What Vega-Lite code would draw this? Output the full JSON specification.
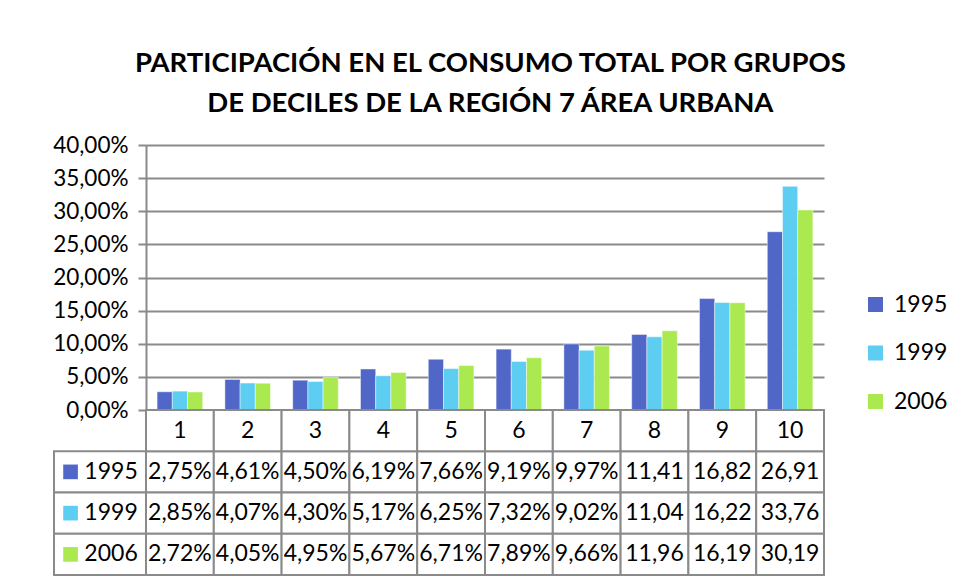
{
  "$schema": "https://vega.github.io/schema/vega-lite/v6.json",
  "background": "white",
  "padding": {"left": 52, "top": 50, "right": 10, "bottom": 5},
  "title": {
    "text": ["PARTICIPACIÓN EN EL CONSUMO TOTAL POR GRUPOS", "DE DECILES DE LA REGIÓN 7 ÁREA URBANA"],
    "font": "Lato", "fontSize": 27.5, "fontWeight": "bold", "color": "#000000",
    "lineHeight": 39.5, "anchor": "middle", "frame": "bounds", "offset": 17, "dx": -10
  },
  "config": {"view": {"stroke": null}, "font": "Lato"},
  "datasets": {
    "t": [
      {"d": 1, "year": "1995", "v": 2.75}, {"d": 2, "year": "1995", "v": 4.61}, {"d": 3, "year": "1995", "v": 4.50},
      {"d": 4, "year": "1995", "v": 6.19}, {"d": 5, "year": "1995", "v": 7.66}, {"d": 6, "year": "1995", "v": 9.19},
      {"d": 7, "year": "1995", "v": 9.97}, {"d": 8, "year": "1995", "v": 11.41}, {"d": 9, "year": "1995", "v": 16.82},
      {"d": 10, "year": "1995", "v": 26.91},
      {"d": 1, "year": "1999", "v": 2.85}, {"d": 2, "year": "1999", "v": 4.07}, {"d": 3, "year": "1999", "v": 4.30},
      {"d": 4, "year": "1999", "v": 5.17}, {"d": 5, "year": "1999", "v": 6.25}, {"d": 6, "year": "1999", "v": 7.32},
      {"d": 7, "year": "1999", "v": 9.02}, {"d": 8, "year": "1999", "v": 11.04}, {"d": 9, "year": "1999", "v": 16.22},
      {"d": 10, "year": "1999", "v": 33.76},
      {"d": 1, "year": "2006", "v": 2.72}, {"d": 2, "year": "2006", "v": 4.05}, {"d": 3, "year": "2006", "v": 4.95},
      {"d": 4, "year": "2006", "v": 5.67}, {"d": 5, "year": "2006", "v": 6.71}, {"d": 6, "year": "2006", "v": 7.89},
      {"d": 7, "year": "2006", "v": 9.66}, {"d": 8, "year": "2006", "v": 11.96}, {"d": 9, "year": "2006", "v": 16.19},
      {"d": 10, "year": "2006", "v": 30.19}
    ],
    "years": [{"year": "1995"}, {"year": "1999"}, {"year": "2006"}]
  },
  "columns": 2,
  "spacing": 0,
  "bounds": "flush",
  "resolve": {"scale": {"x": "independent", "y": "independent", "color": "independent"}, "legend": {"color": "independent"}},
  "concat": [
    {
      "width": 92, "height": 265,
      "data": {"values": [{"a": 1}]},
      "mark": {"type": "text", "text": ""},
      "encoding": {}
    },
    {
      "width": 678, "height": 265,
      "data": {"name": "t"},
      "mark": {"type": "bar", "stroke": "#ffffff", "strokeOpacity": 0.45, "strokeWidth": 1},
      "encoding": {
        "x": {"field": "d", "type": "ordinal", "scale": {"type": "band", "domain": [1,2,3,4,5,6,7,8,9,10], "paddingInner": 0, "paddingOuter": 0}, "axis": null},
        "xOffset": {"field": "year", "type": "nominal", "scale": {"domain": ["1995", "1999", "2006"], "paddingInner": 0, "paddingOuter": 0.73}},
        "y": {"field": "v", "type": "quantitative", "scale": {"domain": [0, 40], "nice": false},
          "axis": {"values": [0,5,10,15,20,25,30,35,40], "title": null, "labelExpr": "replace(format(datum.value, '.2f'), '.', ',') + '%'",
            "labelFontSize": 22.5, "labelColor": "#000000", "labelPadding": 10, "labelFont": "Lato",
            "grid": true, "gridColor": "#8a8a8a", "gridWidth": 2, "domainColor": "#8a8a8a", "domainWidth": 2,
            "tickColor": "#8a8a8a", "tickWidth": 2, "tickSize": 8}},
        "color": {"field": "year", "type": "nominal",
          "scale": {"domain": ["1995", "1999", "2006"], "range": ["#5067C8", "#5ECDF2", "#AAEA50"]},
          "legend": {"title": null, "orient": "none", "legendX": 718, "legendY": 148, "padding": 0,
            "symbolType": "square", "symbolSize": 225, "symbolStrokeWidth": 0, "symbolOpacity": 1,
            "labelFontSize": 23, "labelFont": "Lato", "labelColor": "#000000", "labelOffset": 7, "rowPadding": 24.5}}
      }
    },
    {
      "width": 92, "height": 165,
      "data": {"name": "years"},
      "layer": [
        {
          "mark": {"type": "rect", "fill": "#ffffff", "stroke": "#8a8a8a", "strokeWidth": 2},
          "encoding": {
            "y": {"field": "year", "type": "nominal", "scale": {"type": "band", "domain": ["h", "1995", "1999", "2006"], "paddingInner": 0, "paddingOuter": 0}, "axis": null}
          }
        },
        {
          "mark": {"type": "point", "shape": "square", "filled": true, "opacity": 1, "size": 215},
          "encoding": {
            "x": {"datum": 0.18, "type": "quantitative", "scale": {"domain": [0, 1]}, "axis": null},
            "y": {"field": "year", "type": "nominal", "scale": {"type": "band", "domain": ["h", "1995", "1999", "2006"], "paddingInner": 0, "paddingOuter": 0}, "axis": null},
            "color": {"field": "year", "type": "nominal", "scale": {"domain": ["1995", "1999", "2006"], "range": ["#5067C8", "#5ECDF2", "#AAEA50"]}, "legend": null}
          }
        },
        {
          "mark": {"type": "text", "align": "left", "baseline": "middle", "fontSize": 23, "font": "Lato", "color": "#000000"},
          "encoding": {
            "x": {"datum": 0.33, "type": "quantitative", "scale": {"domain": [0, 1]}, "axis": null},
            "y": {"field": "year", "type": "nominal", "scale": {"type": "band", "domain": ["h", "1995", "1999", "2006"], "paddingInner": 0, "paddingOuter": 0}, "axis": null},
            "text": {"field": "year"}
          }
        }
      ]
    },
    {
      "width": 678, "height": 165,
      "data": {"name": "t"},
      "transform": [
        {"calculate": "datum.v < 10 ? replace(format(datum.v, '.2f'), '.', ',') + '%' : replace(format(datum.v, '.2f'), '.', ',')", "as": "label"}
      ],
      "encoding": {
        "x": {"field": "d", "type": "ordinal", "scale": {"type": "band", "domain": [1,2,3,4,5,6,7,8,9,10], "paddingInner": 0, "paddingOuter": 0}, "axis": null}
      },
      "layer": [
        {
          "mark": {"type": "rect", "fill": "#ffffff", "stroke": "#8a8a8a", "strokeWidth": 2},
          "encoding": {
            "y": {"field": "year", "type": "nominal", "scale": {"type": "band", "domain": ["h", "1995", "1999", "2006"], "paddingInner": 0, "paddingOuter": 0}, "axis": null}
          }
        },
        {
          "transform": [{"filter": "datum.year == '1995'"}],
          "mark": {"type": "rect", "fill": "#ffffff", "stroke": "#8a8a8a", "strokeWidth": 2},
          "encoding": {
            "y": {"datum": "h", "type": "nominal"}
          }
        },
        {
          "mark": {"type": "text", "baseline": "middle", "fontSize": 23, "font": "Lato", "color": "#000000"},
          "encoding": {
            "y": {"field": "year", "type": "nominal"},
            "text": {"field": "label"}
          }
        },
        {
          "transform": [{"filter": "datum.year == '1995'"}],
          "mark": {"type": "text", "baseline": "middle", "fontSize": 23, "font": "Lato", "color": "#000000"},
          "encoding": {
            "y": {"datum": "h", "type": "nominal"},
            "text": {"field": "d"}
          }
        }
      ]
    }
  ]
}
